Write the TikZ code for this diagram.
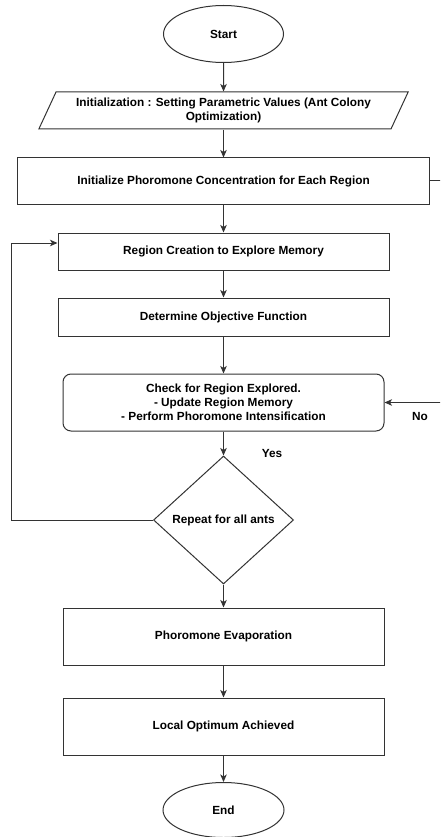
\documentclass[tikz,border=0pt]{standalone}
\usepackage{fontspec}
\setmainfont{Liberation Sans}
\usetikzlibrary{shapes.geometric, arrows.meta}

\begin{document}
\begin{tikzpicture}[x=1pt, y=-1pt,
	font=\fontsize{11.8}{13.8}\selectfont\bfseries,
	every node/.style={draw=black!80, line width=1pt, align=center, inner sep=2pt},
	terminal/.style={ellipse, minimum width=120pt, minimum height=57pt},
	inputbox/.style={trapezium, trapezium left angle=62, trapezium right angle=118, trapezium stretches=true, minimum width=371pt, minimum height=37pt},
	process/.style={rectangle, minimum height=57pt},
	decision/.style={diamond, minimum width=140pt, minimum height=128pt, inner sep=0pt},
	flow/.style={draw=black!80, line width=1pt, -{Stealth[length=7.5pt, width=6.5pt, inset=2pt]}},
	tag/.style={draw=none}]

	% the page, same size as the reference
	\clip (0,0) rectangle (440,837);

	% all positions are in pixels of the reference, y grows downwards
	\node[terminal] (start) at (223.5,34) {Start};
	\node[inputbox] (init) at (223.5,110.5) {Initialization : Setting Parametric Values (Ant Colony\\Optimization)};
	\node[process, minimum width=412pt, minimum height=46pt] (phinit) at (223.5,181) {Initialize Phoromone Concentration for Each Region};
	\node[process, minimum width=331pt, minimum height=37pt] (region) at (223.5,251.5) {Region Creation to Explore Memory};
	\node[process, minimum width=331pt, minimum height=38pt] (objective) at (223.5,317) {Determine Objective Function};
	\node[process, rounded corners=8pt, minimum width=321pt] (check) at (223.5,402.5) {Check for Region Explored.\\- Update Region Memory\\- Perform Phoromone Intensification};
	\node[decision] (repeat) at (223.5,520) {Repeat for all ants};
	\node[process, minimum width=321pt] (evap) at (223.5,636.5) {Phoromone Evaporation};
	\node[process, minimum width=321pt] (local) at (223.5,726.5) {Local Optimum Achieved};
	\node[terminal, minimum width=121pt, minimum height=55pt] (end) at (223.5,810) {End};

	\node[tag] (yes) at (272,453) {Yes};
	\node[tag] (no) at (420,416) {No};

	\draw[flow] (start) -- (init);
	\draw[flow] (init) -- (phinit);
	\draw[flow] (phinit) -- (region);
	\draw[flow] (region) -- (objective);
	\draw[flow] (objective) -- (check);
	\draw[flow] (check) -- (repeat);
	\draw[flow] (repeat) -- (evap);
	\draw[flow] (evap) -- (local);
	\draw[flow] (local) -- (end);

	% loop back for the next ant
	\draw[flow] (repeat.west) -- ++(-142,0) |- ([yshift=8.5pt]region.west);
	% the "No" branch runs along the right edge
	\draw[flow] (phinit.east) -- ++(16,0) |- (check.east);

\end{tikzpicture}
\end{document}
